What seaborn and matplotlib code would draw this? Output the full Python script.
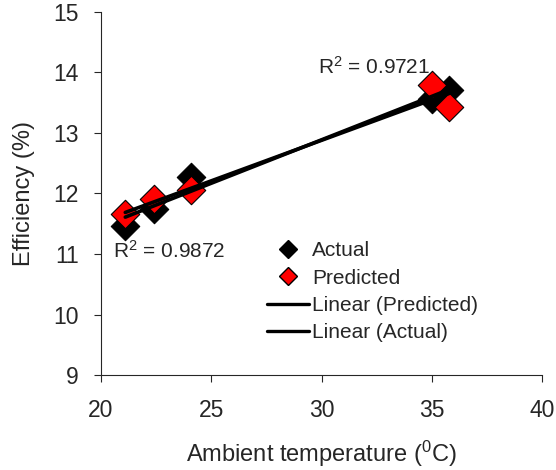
import numpy as np
import pandas as pd
import matplotlib
matplotlib.use("Agg")
import matplotlib.pyplot as plt
import seaborn as sns
from matplotlib.lines import Line2D

# data
temp = [21.1, 22.4, 24.1, 35.0, 35.8]
actual = [11.47, 11.75, 12.27, 13.57, 13.71]
predicted = [11.66, 11.91, 12.05, 13.79, 13.43]
r2_actual = "0.9872"
r2_predicted = "0.9721"
xticks = [20, 25, 30, 35, 40]
yticks = [9, 10, 11, 12, 13, 14, 15]

sns.set_style("ticks")
plt.rcParams["font.family"] = ["Liberation Sans", "DejaVu Sans"]
plt.rcParams["mathtext.fontset"] = "custom"
plt.rcParams["mathtext.rm"] = "Liberation Sans"
plt.rcParams["mathtext.it"] = "Liberation Sans:italic"

df = pd.DataFrame({"temp": temp, "Actual": actual, "Predicted": predicted})

fig = plt.figure(figsize=(5.56, 4.70), dpi=100)
ax = fig.add_axes([0.1817, 0.2021, 0.7931, 0.7724])

sns.scatterplot(data=df, x="temp", y="Actual", marker="D", s=210, color="black",
                edgecolor="black", linewidth=0.8, ax=ax, zorder=2)
sns.scatterplot(data=df, x="temp", y="Predicted", marker="D", s=210, color="red",
                edgecolor="black", linewidth=0.8, ax=ax, zorder=3)
sns.regplot(data=df, x="temp", y="Actual", scatter=False, ci=None, truncate=True,
            color="black", line_kws={"lw": 2.6, "zorder": 4}, ax=ax)
sns.regplot(data=df, x="temp", y="Predicted", scatter=False, ci=None, truncate=True,
            color="black", line_kws={"lw": 2.6, "zorder": 4}, ax=ax)

ax.text(20.55, 11.06, "R$^{2}$ = " + r2_actual, va="center", ha="left", fontsize=15)
ax.text(29.85, 14.09, "R$^{2}$ = " + r2_predicted, va="center", ha="left", fontsize=15)

ax.set_xlim(20, 40)
ax.set_ylim(9, 15)
ax.set_xticks(xticks)
ax.set_yticks(yticks)
ax.set_xlabel("Ambient temperature ($^{0}$C)", fontsize=17, labelpad=12.5)
ax.set_ylabel("Efficiency (%)", fontsize=17, labelpad=13)
ax.tick_params(direction="out", length=5, width=0.8, labelsize=16.5)
ax.tick_params(axis="x", pad=12)
ax.tick_params(axis="y", pad=11)
for side in ["left", "bottom"]:
    ax.spines[side].set_linewidth(0.8)
sns.despine(ax=ax)

handles = [
    Line2D([], [], ls="none", marker="D", ms=9, mfc="black", mec="black"),
    Line2D([], [], ls="none", marker="D", ms=9, mfc="red", mec="black"),
    Line2D([], [], color="black", lw=2.4),
    Line2D([], [], color="black", lw=2.4),
]
labels = ["Actual", "Predicted", "Linear (Predicted)", "Linear (Actual)"]
fig.legend(handles, labels, loc="upper left", bbox_to_anchor=(0.462, 0.509),
           frameon=False, fontsize=15, handlelength=2.0, handletextpad=0.15,
           labelspacing=0.4, borderpad=0)

fig.savefig("out.png", dpi=100)
